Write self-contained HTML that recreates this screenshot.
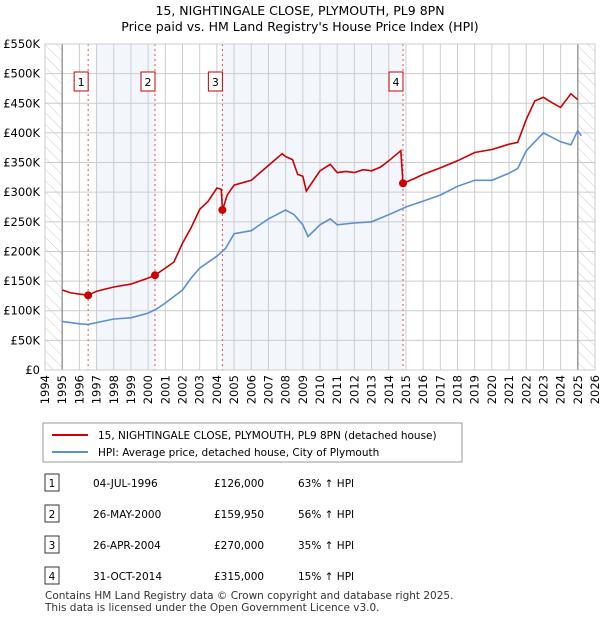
<!DOCTYPE html>
<html><head><meta charset="utf-8"><style>
body{margin:0;background:#fff;font-family:"Liberation Sans","DejaVu Sans",sans-serif;}
svg text{font-family:"DejaVu Sans","Liberation Sans",sans-serif;}
</style></head><body>
<svg id="c" width="600" height="620" xmlns="http://www.w3.org/2000/svg">
<defs><pattern id="hatch" patternUnits="userSpaceOnUse" width="8" height="8" patternTransform="rotate(-45)"><line x1="0" y1="0" x2="0" y2="8" stroke="#ccc" stroke-width="1"/></pattern></defs>
<text x="300" y="15" text-anchor="middle" font-size="12.5">15, NIGHTINGALE CLOSE, PLYMOUTH, PL9 8PN</text>
<text x="300" y="31" text-anchor="middle" font-size="12.5">Price paid vs. HM Land Registry's House Price Index (HPI)</text>
<g id="plot"></g>
<g>
<rect x="43" y="423" width="419" height="39" fill="#fff" stroke="#999"/>
<line x1="52" y1="435" x2="88" y2="435" stroke="#cc0000" stroke-width="2"/>
<text x="98" y="439" font-size="10.5">15, NIGHTINGALE CLOSE, PLYMOUTH, PL9 8PN (detached house)</text>
<line x1="52" y1="452" x2="88" y2="452" stroke="#5b8fd4" stroke-width="2"/>
<text x="98" y="456" font-size="10.5">HPI: Average price, detached house, City of Plymouth</text>
</g>
<g id="table" font-size="10.5"></g>
<text x="45" y="599" font-size="10.5" fill="#333">Contains HM Land Registry data © Crown copyright and database right 2025.</text>
<text x="45" y="611" font-size="10.5" fill="#333">This data is licensed under the Open Government Licence v3.0.</text>
</svg>
<script>
const priceYears=[1995,1995.5,1996,1996.5,1997,1998,1999,2000,2000.4,2001,2001.5,2002,2002.5,2003,2003.5,2004,2004.25,2004.33,2004.6,2005,2006,2007,2007.8,2008,2008.4,2008.7,2009,2009.2,2010,2010.6,2011,2011.5,2012,2012.5,2013,2013.5,2014,2014.7,2014.83,2015.5,2016,2017,2018,2019,2020,2021,2021.5,2022,2022.5,2023,2023.5,2024,2024.6,2025];
const priceValues=[135,130,128,126,133,140,145,155,160,172,182,214,240,271,285,307,305,270,295,312,320,345,365,360,355,330,327,302,336,347,333,335,333,338,336,342,353,370,315,323,330,341,353,367,372,381,384,423,454,460,451,443,466,456];
const hpiYears=[1995,1996,1996.5,1997,1998,1999,2000,2000.5,2001,2002,2002.5,2003,2004,2004.5,2005,2006,2007,2008,2008.5,2009,2009.3,2010,2010.6,2011,2012,2013,2014,2015,2016,2017,2018,2019,2020,2021,2021.5,2022,2022.5,2023,2024,2024.6,2025,2025.2];
const hpiValues=[82,78,77,80,86,88,96,103,113,135,155,172,192,205,230,235,255,270,262,245,225,245,255,245,248,250,262,275,285,295,310,320,320,332,340,370,385,400,385,380,404,395];
const saleYears=[1996.51,2000.4,2004.32,2014.83];
const saleValues=[126,159.95,270,315];
const saleLabels=["1","2","3","4"];
const saleDates=["04-JUL-1996","26-MAY-2000","26-APR-2004","31-OCT-2014"];
const salePrices=["£126,000","£159,950","£270,000","£315,000"];
const saleHpi=["63% ↑ HPI","56% ↑ HPI","35% ↑ HPI","15% ↑ HPI"];
const yTicks=[0,50,100,150,200,250,300,350,400,450,500,550];
const yTickLabels=["£0","£50K","£100K","£150K","£200K","£250K","£300K","£350K","£400K","£450K","£500K","£550K"];
const xTicks=[1994,1995,1996,1997,1998,1999,2000,2001,2002,2003,2004,2005,2006,2007,2008,2009,2010,2011,2012,2013,2014,2015,2016,2017,2018,2019,2020,2021,2022,2023,2024,2025,2026];

const NS="http://www.w3.org/2000/svg";
const X0=45,X1=595,Y0=370,Y1=44;
const xs=y=>X0+(y-1994)/32*(X1-X0);
const ys=v=>Y0-v/550*(Y0-Y1);
const plot=document.getElementById('plot');
function mk(tag,attrs,parent){const e=document.createElementNS(NS,tag);for(const k in attrs)e.setAttribute(k,attrs[k]);(parent||plot).appendChild(e);return e;}
// shaded bands
const bands=[[1997,2000.4],[2004.32,2014.83]];
bands.forEach(b=>{const r=mk('rect',{x:xs(b[0]),y:Y1,width:xs(b[1])-xs(b[0]),height:Y0-Y1,fill:'#eef3fc',opacity:0.7});

});
// hatched
[[1994,1995],[2025,2026]].forEach(b=>{const r=mk('rect',{x:xs(b[0]),y:Y1,width:xs(b[1])-xs(b[0]),height:Y0-Y1,fill:'url(#hatch)'});

});
// grid
xTicks.forEach(t=>{const l=mk('line',{x1:xs(t),x2:xs(t),y1:Y1,y2:Y0,stroke:'#ccc','stroke-width':1});


const tx=mk('text',{x:0,y:0,'font-size':11.5,'text-anchor':'end',transform:`translate(${xs(t)+4},375) rotate(-90)`});
tx.textContent=t;

});
yTicks.forEach((t,i)=>{const l=mk('line',{x1:X0,x2:X1,y1:ys(t),y2:ys(t),stroke:'#ccc','stroke-width':1});


const tx=mk('text',{x:40,y:ys(t)+4,'font-size':11.5,'text-anchor':'end'});
tx.textContent=yTickLabels[i];

});
[1995,2025].forEach(t=>{mk('line',{x1:xs(t),x2:xs(t),y1:Y1,y2:Y0,stroke:'#888','stroke-width':1.2});});
// sale lines & boxes
saleYears.forEach((s,i)=>{const l=mk('line',{x1:xs(s),x2:xs(s),y1:Y1,y2:Y0,stroke:'#e05050','stroke-width':1,'stroke-dasharray':'2,3'});


const bx=xs(s)-7;
const r=mk('rect',{x:bx-7,y:72,width:14,height:19,fill:'#fff',stroke:'#cc0000'});


const t=mk('text',{x:bx,y:86,'font-size':11,'text-anchor':'middle'});t.textContent=saleLabels[i];});
// lines
const hp=mk('path',{d:hpiYears.map((y,i)=>(i?'L':'M')+xs(y).toFixed(1)+','+ys(hpiValues[i]).toFixed(1)).join(''),fill:'none',stroke:'#5b8fd4','stroke-width':1.6});


const pp=mk('path',{d:priceYears.map((y,i)=>(i?'L':'M')+xs(y).toFixed(1)+','+ys(priceValues[i]).toFixed(1)).join(''),fill:'none',stroke:'#cc0000','stroke-width':1.6});


saleYears.forEach((s,i)=>{const c=mk('circle',{cx:xs(s),cy:ys(saleValues[i]),r:4,fill:'#cc0000'});

});
mk('rect',{x:X0,y:Y1,width:X1-X0,height:Y0-Y1,fill:'none',stroke:'#ccc'});
// table
const tb=document.getElementById('table');
const rowY=[483,514,545,576];
rowY.forEach((y,i)=>{const r=mk('rect',{x:45,y:y-9,width:14,height:17,fill:'#fff',stroke:'#333'},tb);


const vals=[[saleLabels[i],52,'middle'],[saleDates[i],93,'start'],[salePrices[i],214,'start'],[saleHpi[i],298,'start']];
vals.forEach(v=>{const t=mk('text',{x:v[1],y:y+4,'text-anchor':v[2]},tb);t.textContent=v[0];

});});
</script>
</body></html>
